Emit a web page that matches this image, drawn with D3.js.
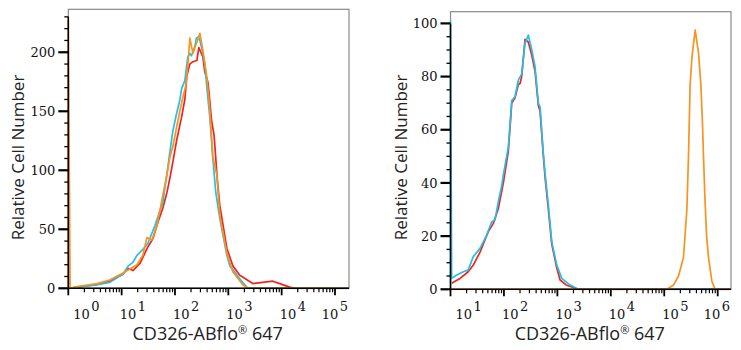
<!DOCTYPE html>
<html><head><meta charset="utf-8">
<script src="https://cdn.jsdelivr.net/npm/d3@7"></script>
<style>body{margin:0;background:#fff}svg{display:block}</style>
</head><body><svg id="c" width="741" height="350"></svg>
<script>
// ---------- DATA ----------
// Left panel (x = fluorescence intensity, y = cell count)
const leftDecades = [0, 1, 2, 3, 4, 5];
const leftYTicks = [0, 50, 100, 150, 200];
const leftRedX = [1.08, 1.46, 3.45, 6, 10.6, 13.1, 16.3, 22, 31, 38.5, 47.9, 59.3, 70.5, 80, 92, 107, 133, 153, 167, 190, 216, 257, 280, 333, 363, 396, 417, 450, 485, 540, 580, 610, 636, 693, 938, 1214, 1641, 2876, 4430, 6815, 9200, 14190, 17580, 183000];
const leftRedY = [0, 1, 3, 6, 12, 17, 15, 21, 35, 42, 56, 68, 81, 93, 108, 125, 145, 160, 180, 190, 192, 193, 204, 196, 183, 178, 174, 158, 142, 130, 111, 97, 87, 70, 34, 19, 11, 4, 5, 6, 4, 1, 0, 0];
const leftCyanX = [1.08, 1.46, 3.45, 6, 10.6, 13.3, 16.3, 19.4, 25, 31, 42, 59.3, 70.5, 80, 91, 107, 124, 133, 153, 174, 190, 204, 236, 252, 272, 293, 319, 363, 396, 450, 513, 583, 693, 938, 1067, 1641, 2316, 183000];
const leftCyanY = [0, 1, 3, 5, 12, 19, 22, 28, 33, 38, 53, 73, 97, 115, 133, 148, 160, 169, 176, 196, 199, 197, 205, 212, 213, 210, 203, 190, 170, 145, 110, 81, 59, 28, 19, 8, 0, 0];
const leftOrangeX = [1, 1, 1.08, 1.46, 3.45, 6, 10.6, 19.4, 25, 29.8, 36.9, 45.8, 59.3, 70.5, 80, 91, 124, 141, 160, 175, 190, 217, 293, 333, 396, 450, 513, 610, 693, 938, 1214, 1865, 2316, 183000];
const leftOrangeY = [0, 228, 0, 1.5, 4, 7, 13, 20, 28, 43, 41, 53, 79, 96, 111, 120, 151, 162, 172, 190, 212, 199, 216, 202, 179, 151, 111, 96, 62, 30, 14, 3, 0, 0];

// Right panel
const rightDecades = [1, 2, 3, 4, 5, 6];
const rightYTicks = [0, 20, 40, 60, 80, 100];
const rightRedX = [10.5, 15.1, 21.5, 26.7, 35.7, 51, 63.3, 78.5, 97.5, 121, 140, 161, 186, 200, 215, 248, 286, 332, 382, 441, 474, 547, 589, 678, 785, 975, 1125, 1500, 2473, 1774000];
const rightRedY = [2.3, 4.1, 6.6, 9.1, 14, 21.7, 24.8, 30.4, 40, 52, 70, 72, 77, 77.4, 80, 94, 93, 88, 82, 69, 67, 50, 42, 30, 17, 8, 3.5, 1.5, 0, 0];
const rightCyanX = [10, 10, 10.5, 13.1, 17.4, 21.5, 26.7, 35.7, 47.6, 59.1, 68, 78.5, 91, 97.5, 121, 140, 161, 186, 215, 248, 286, 332, 382, 441, 474, 547, 589, 678, 785, 975, 1209, 1729, 2473, 1774000];
const rightCyanY = [0, 101, 4.1, 5.4, 6.6, 7.3, 12.3, 15.4, 20.4, 25.4, 26, 33, 39, 43, 53.6, 71, 72.4, 78.7, 81, 92.5, 95.6, 90, 83.7, 70, 68.6, 51, 43.6, 31.7, 17.9, 9.1, 4.1, 1.6, 0, 0];
const rightOrangeX = [10, 112000, 149000, 185000, 229000, 265000, 284000, 305000, 329000, 379000, 437000, 484000, 520000, 542000, 583000, 620000, 673000, 779000, 898000, 1774000];
const rightOrangeY = [0, 0, 1.6, 5, 12, 30, 50, 77, 87, 97.5, 89, 77, 62, 50, 32, 20, 12, 3, 0, 0];

const xTitle = ["CD326-ABflo", "®", " 647"];
const yTitle = "Relative Cell Number";

// ---------- STYLE / LAYOUT ----------
const colors = { red: "#f2231d", cyan: "#22bfea", orange: "#f7931e" };
const panels = [
  { x0: 68.3, x1: 349, yb: 288.3, yt: 9.3, xDom: [1, 183000], yMax: 236.4, decades: leftDecades,
    yTicks: leftYTicks, yMinor: 10, yMinorMax: 230,
    series: [[leftRedX, leftRedY, colors.red], [leftCyanX, leftCyanY, colors.cyan], [leftOrangeX, leftOrangeY, colors.orange]] },
  { x0: 450.5, x1: 731, yb: 289.3, yt: 11.7, xDom: [10, 1774000], yMax: 104.4, decades: rightDecades,
    yTicks: rightYTicks, yMinor: 5, yMinorMax: 100,
    series: [[rightRedX, rightRedY, colors.red], [rightCyanX, rightCyanY, colors.cyan], [rightOrangeX, rightOrangeY, colors.orange]] }
];

const svg = d3.select("#c");
svg.append("rect").attr("width", 741).attr("height", 350).attr("fill", "#fff");

panels.forEach((p, pi) => {
  const x = d3.scaleLog().domain(p.xDom).range([p.x0, p.x1]);
  const y = d3.scaleLinear().domain([0, p.yMax]).range([p.yb, p.yt]);
  const g = svg.append("g");

  // frame
  g.append("rect").attr("x", p.x0).attr("y", p.yt).attr("width", p.x1 - p.x0).attr("height", p.yb - p.yt)
    .attr("fill", "none").attr("stroke", "#8a8a8a").attr("stroke-width", 1.2);

  // clip
  const cid = "clip" + pi;
  svg.append("clipPath").attr("id", cid).append("rect")
    .attr("x", p.x0 - 1).attr("y", p.yt).attr("width", p.x1 - p.x0 + 1).attr("height", p.yb - p.yt + 1);

  // curves
  const line = d3.line().x(d => x(d[0])).y(d => y(d[1]));
  p.series.forEach(([xs, ys, col]) => {
    g.append("path").attr("clip-path", `url(#${cid})`).datum(d3.zip(xs, ys)).attr("d", line)
      .attr("fill", "none").attr("stroke", col).attr("stroke-width", 1.7).attr("stroke-linejoin", "round");
  });

  // y axis
  g.append("line").attr("x1", p.x0).attr("x2", p.x0).attr("y1", y(p.yMinorMax)).attr("y2", p.yb)
    .attr("stroke", "#000").attr("stroke-width", 1.5);
  d3.range(0, p.yMinorMax + 0.001, p.yMinor).forEach(v => {
    const major = p.yTicks.includes(v);
    g.append("line").attr("x1", p.x0 - (major ? 10 : 4)).attr("x2", p.x0).attr("y1", y(v)).attr("y2", y(v))
      .attr("stroke", "#000").attr("stroke-width", major ? 2.2 : 1.3);
  });
  p.yTicks.forEach(v => {
    g.append("text").attr("x", p.x0 - 13).attr("y", y(v)).attr("dy", "0.36em").attr("text-anchor", "end")
      .attr("font-family", "DejaVu Serif").attr("font-size", 13).attr("fill", "#111").text(v);
  });

  // x axis
  g.append("line").attr("x1", p.x0).attr("x2", p.x1).attr("y1", p.yb).attr("y2", p.yb)
    .attr("stroke", "#000").attr("stroke-width", 1.5);
  const dMin = Math.floor(Math.log10(p.xDom[0])), dMax = Math.ceil(Math.log10(p.xDom[1]));
  for (let d = dMin; d <= dMax; d++) {
    for (let k = 1; k <= 9; k++) {
      const v = k * Math.pow(10, d);
      if (v < p.xDom[0] * 0.9999 || v > p.xDom[1]) continue;
      const major = k === 1;
      g.append("line").attr("x1", x(v)).attr("x2", x(v)).attr("y1", p.yb).attr("y2", p.yb + (major ? 7 : 4))
        .attr("stroke", "#000").attr("stroke-width", major ? 1.8 : 1.2);
    }
  }
  p.decades.forEach(d => {
    const px = x(Math.pow(10, d));
    const t = g.append("text").attr("y", 318.5).attr("font-family", "DejaVu Serif").attr("font-size", 13).attr("fill", "#111");
    t.append("tspan").text("10");
    t.append("tspan").attr("dy", -8).attr("dx", 1.5).text(d);
    const w = t.node().getBBox().width;
    const sx = Math.min(Math.max(px - 2, p.x0 + 5), p.x1 - 1 - w);
    t.attr("x", sx);
  });

  // axis titles
  const xt = g.append("text").attr("x", (p.x0 + p.x1) / 2 - 1).attr("y", 340).attr("text-anchor", "middle")
    .attr("font-family", "Open Sans").attr("font-size", 18).attr("fill", "#222");
  xt.append("tspan").text(xTitle[0]);
  xt.append("tspan").attr("font-size", 11).attr("dy", -6).text(xTitle[1]);
  xt.append("tspan").attr("dy", 6).text(xTitle[2]);

  g.append("text").attr("transform", `translate(${p.x0 - 44},157.5) rotate(-90)`).attr("text-anchor", "middle")
    .attr("font-family", "Open Sans").attr("font-size", 17).attr("fill", "#222").text(yTitle);
});
</script>
</body></html>
